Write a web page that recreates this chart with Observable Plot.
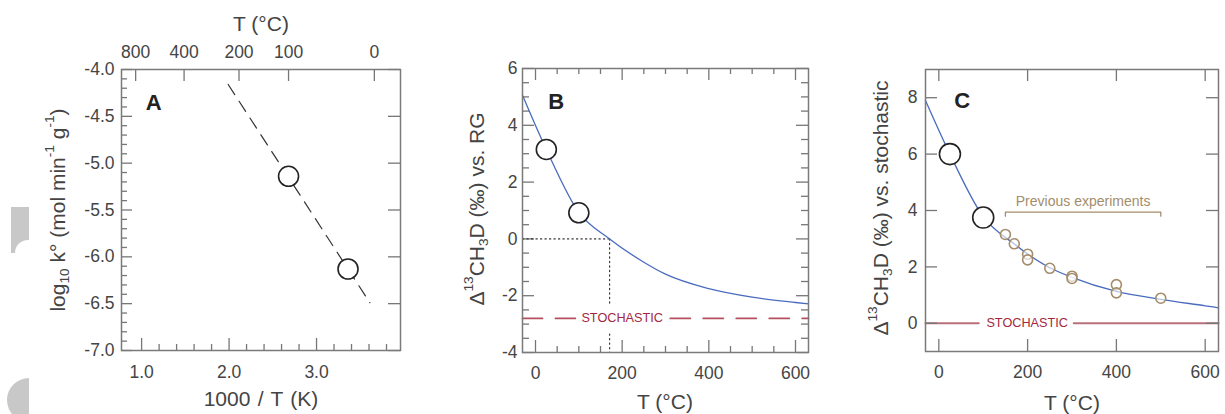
<!DOCTYPE html>
<html><head><meta charset="utf-8">
<script src="https://cdn.jsdelivr.net/npm/d3@7"></script>
<script src="https://cdn.jsdelivr.net/npm/@observablehq/plot@0.6"></script>
<style>
body{margin:0;background:#fff;}
#root{position:relative;width:1225px;height:414px;overflow:hidden;font-family:"Liberation Sans",Arial,sans-serif;color:#444;background:#fff;}
.panel{position:absolute;top:0;}
.t{position:absolute;white-space:nowrap;font-size:21px;color:#444;transform:translate(-50%,-50%);line-height:1;}
.ty{transform:translate(-50%,-50%) rotate(-90deg);}
sup,sub{font-size:65%;line-height:0;}
sup{vertical-align:0.75em;}
sub{vertical-align:-0.3em;}
.deco{position:absolute;background:#c8c8c8;}
</style></head>
<body>
<div id="root">
  <div class="deco" style="left:11px;top:207px;width:18px;height:46px;"></div>
  <div style="position:absolute;left:15px;top:240px;width:20px;height:20px;background:#fff;border-top-left-radius:13px;"></div>
  <div style="position:absolute;left:0;top:378px;width:29px;height:40px;overflow:hidden;">
    <div style="position:absolute;left:7px;top:0;width:44px;height:44px;border-radius:50%;background:#c8c8c8;"></div>
  </div>
  <div id="pA" class="panel" style="left:0px;"></div>
  <div id="pB" class="panel" style="left:420px;"></div>
  <div id="pC" class="panel" style="left:820px;"></div>
  <div class="t" style="left:261px;top:23px;">T (°C)</div>
  <div class="t" style="left:261px;top:398px;word-spacing:1.5px;">1000 / T (K)</div>
  <div class="t" style="left:665px;top:401px;">T (°C)</div>
  <div class="t" style="left:1072px;top:402px;">T (°C)</div>
  <div class="t ty" style="left:57px;top:210px;">log<sub>10</sub> k° (mol min<sup>-1</sup> g<sup>-1</sup>)</div>
  <div class="t ty" style="left:476px;top:209px;">Δ<sup>13</sup>CH<sub>3</sub>D (‰) vs. RG</div>
  <div class="t ty" style="left:880px;top:208px;">Δ<sup>13</sup>CH<sub>3</sub>D (‰) vs. stochastic</div>
</div>
<script>
// ---------- Panel A data ----------
const invT_A = [2.68, 3.36];          // 1000/T (K)
const logk_A = [-5.14, -6.13];        // log10 k°
const fitInvT_A = [1.99, 3.61];       // dashed Arrhenius fit end points
const fitLogk_A = [-4.16, -6.49];
const topTempLabelsA = [800, 400, 200, 100, 0];   // °C, top axis
const xTickLabelsA = [1.0, 2.0, 3.0];
const yTickLabelsA = [-7.0, -6.5, -6.0, -5.5, -5.0, -4.5, -4.0];

// ---------- Panels B & C data ----------
const curveT_B = [-30, 25, 100, 171, 250, 300, 400, 500, 600, 630];
const curveB   = [5.06, 3.15, 0.93, 0, -0.82, -1.24, -1.75, -2.05, -2.24, -2.29];
const curveT_C = [-30, 25, 100, 171, 250, 300, 400, 500, 600, 630];
const curveC   = [7.9, 6.0, 3.78, 2.8, 1.97, 1.63, 1.13, 0.85, 0.62, 0.55];
const sampleT = [25, 100];
const sampleB = [3.15, 0.92];
const sampleC = [6.0, 3.75];
const prevT = [150, 170, 200, 200, 250, 300, 300, 400, 400, 500];
const prevC = [3.15, 2.82, 2.45, 2.25, 1.95, 1.67, 1.59, 1.37, 1.08, 0.89];
const stochasticB = -2.8;
const stochasticC = 0;
const crossoverT = 171;
const xTickLabelsBC = [0, 200, 400, 600];
const yTickLabelsB = [-4, -2, 0, 2, 4, 6];
const yTickLabelsC = [0, 2, 4, 6, 8];

const FONT = "'Liberation Sans', Arial, sans-serif";
const TICK = "#777";
const FRAMEC = "#7a7a7a";
const BLUE = "#4a6cbf";
const TAN = "#a48d6b";
const RED = "#a3283f";
const TFS = 17.5;
const LABC = "#454545";

function ticks(values, side, len, plotW, plotH) {
  const o = {stroke: TICK, strokeWidth: 1.3};
  if (side === "bottom") return Plot.ruleX(values, {...o, insetTop: plotH - len});
  if (side === "top") return Plot.ruleX(values, {...o, insetBottom: plotH - len});
  if (side === "left") return Plot.ruleY(values, {...o, insetRight: plotW - len});
  return Plot.ruleY(values, {...o, insetLeft: plotW - len});
}
function labelsX(values, side, off, fmt) {
  return Plot.text(values, {x: d => d, frameAnchor: side, dy: side === "bottom" ? off : -off,
    text: fmt, fontSize: TFS, fill: LABC, lineAnchor: "middle", textAnchor: "middle"});
}
function labelsY(values, off, fmt) {
  return Plot.text(values, {y: d => d, frameAnchor: "left", dx: -off,
    text: fmt, fontSize: TFS, fill: LABC, lineAnchor: "middle", textAnchor: "end"});
}

function build(el, W, H, m, xDomain, yDomain, marks) {
  const plotW = W - m.l - m.r, plotH = H - m.t - m.b;
  const svg = Plot.plot({
    width: W, height: H,
    marginLeft: m.l, marginRight: m.r, marginTop: m.t, marginBottom: m.b,
    x: {domain: xDomain, axis: null},
    y: {domain: yDomain, axis: null},
    style: {fontFamily: FONT, fontSize: "17px", color: "#444", background: "transparent", overflow: "visible"},
    marks: marks(plotW, plotH)
  });
  document.getElementById(el).appendChild(svg);
}

// ---------- Panel A ----------
{
  const minorX = d3.range(1.2, 3.95, 0.2).filter(v => Math.abs(v - Math.round(v)) > 0.01);
  const minorY = d3.range(-6.9, -4.0, 0.1).filter(v => Math.abs(v * 2 - Math.round(v * 2)) > 0.01);
  const topPos = topTempLabelsA.map(t => 1000 / (t + 273.15));
  const pts = invT_A.map((x, i) => ({x, y: logk_A[i]}));
  const fit = fitInvT_A.map((x, i) => ({x, y: fitLogk_A[i]}));
  build("pA", 420, 414, {l: 121, r: 20, t: 69, b: 64}, [0.77, 3.96], [-7, -4], (pw, ph) => [
    ticks(xTickLabelsA, "bottom", 12, pw, ph),
    ticks(minorX, "bottom", 6, pw, ph),
    ticks(topPos, "top", 12, pw, ph),
    ticks(yTickLabelsA, "left", 11, pw, ph),
    ticks(minorY, "left", 6, pw, ph),
    ticks(yTickLabelsA, "right", 12, pw, ph),
    labelsX(xTickLabelsA, "bottom", 21.5, d => d.toFixed(1)),
    labelsX(topPos, "top", 17.5, (d, i) => String(topTempLabelsA[i])),
    labelsY(yTickLabelsA, 7, d => d.toFixed(1)),
    Plot.line(fit, {x: "x", y: "y", stroke: "#333", strokeWidth: 1.2, strokeDasharray: "12,8"}),
    Plot.dot(pts, {x: "x", y: "y", r: 10, fill: "#fff", stroke: "#222", strokeWidth: 1.6}),
    Plot.text(["A"], {x: 1.137, y: -4.352, text: d => d, fontSize: 22, fontWeight: "bold", fill: "#222"}),
    Plot.frame({stroke: FRAMEC, strokeWidth: 1.5})
  ]);
}

// ---------- Panel B ----------
{
  const minorX = d3.range(0, 630, 50).filter(v => v % 200 !== 0);
  const minorY = d3.range(-3.5, 6, 0.5).filter(v => Math.abs(v / 2 - Math.round(v / 2)) > 0.01);
  const curve = curveT_B.map((x, i) => ({x, y: curveB[i]}));
  const pts = sampleT.map((x, i) => ({x, y: sampleB[i]}));
  const dot = {x: "x", y: "y", stroke: "#333", strokeWidth: 1.2, strokeDasharray: "1.2,3.3"};
  const dash = {x: "x", y: "y", stroke: "#b5505f", strokeWidth: 1.8, strokeDasharray: "20,13"};
  build("pB", 400, 414, {l: 102, r: 12, t: 68, b: 62}, [-30, 630], [-4, 6], (pw, ph) => [
    ticks(xTickLabelsBC, "bottom", 12, pw, ph),
    ticks(minorX, "bottom", 6, pw, ph),
    ticks(xTickLabelsBC, "top", 12, pw, ph),
    ticks(minorX, "top", 6, pw, ph),
    ticks(yTickLabelsB, "left", 12, pw, ph),
    ticks(minorY, "left", 7, pw, ph),
    ticks(yTickLabelsB, "right", 12, pw, ph),
    ticks(minorY, "right", 7, pw, ph),
    labelsX(xTickLabelsBC, "bottom", 21, d => String(d)),
    labelsY(yTickLabelsB, 5, d => String(d)),
    Plot.line([{x: -30, y: 0}, {x: crossoverT, y: 0}], dot),
    Plot.line([{x: crossoverT, y: 0}, {x: crossoverT, y: -2.3}], dot),
    Plot.line([{x: crossoverT, y: -3.35}, {x: crossoverT, y: -4}], dot),
    Plot.line([{x: -30, y: stochasticB}, {x: 92, y: stochasticB}], dash),
    Plot.line([{x: 311, y: stochasticB}, {x: 630, y: stochasticB}], dash),
    Plot.text(["STOCHASTIC"], {x: 200, y: stochasticB, text: d => d, fontSize: 12.7, fill: RED}),
    Plot.line(curve, {x: "x", y: "y", stroke: BLUE, strokeWidth: 1.3, curve: "monotone-x"}),
    Plot.dot(pts, {x: "x", y: "y", r: 10, fill: "#fff", stroke: "#222", strokeWidth: 1.6}),
    Plot.text(["B"], {x: 48, y: 4.82, text: d => d, fontSize: 22, fontWeight: "bold", fill: "#222"}),
    Plot.frame({stroke: FRAMEC, strokeWidth: 1.5})
  ]);
}

// ---------- Panel C ----------
{
  const curve = curveT_C.map((x, i) => ({x, y: curveC[i]}));
  const pts = sampleT.map((x, i) => ({x, y: sampleC[i]}));
  const prev = prevT.map((x, i) => ({x, y: prevC[i]}));
  build("pC", 405, 414, {l: 105, r: 7, t: 69, b: 63}, [-30, 630], [-1, 9], (pw, ph) => [
    Plot.line([{x: -30, y: stochasticC}, {x: 90, y: stochasticC}], {x: "x", y: "y", stroke: "#b8707c", strokeWidth: 2}),
    Plot.line([{x: 304, y: stochasticC}, {x: 630, y: stochasticC}], {x: "x", y: "y", stroke: "#b8707c", strokeWidth: 2}),
    ticks(xTickLabelsBC, "bottom", 12, pw, ph),
    ticks(xTickLabelsBC, "top", 12, pw, ph),
    ticks(yTickLabelsC, "left", 12, pw, ph),
    ticks(yTickLabelsC, "right", 12, pw, ph),
    labelsX(xTickLabelsBC, "bottom", 20.5, d => String(d)),
    labelsY(yTickLabelsC, 8, d => String(d)),
    Plot.text(["STOCHASTIC"], {x: 199, y: stochasticC, text: d => d, fontSize: 12.7, fill: RED}),
    Plot.line(curve, {x: "x", y: "y", stroke: BLUE, strokeWidth: 1.3, curve: "monotone-x"}),
    Plot.line([{x: 150, y: 3.8}, {x: 150, y: 3.94}, {x: 500, y: 3.94}, {x: 500, y: 3.8}], {x: "x", y: "y", stroke: TAN, strokeWidth: 1.3}),
    Plot.text(["Previous experiments"], {x: 325, y: 4.33, text: d => d, fontSize: 14, fill: TAN}),
    Plot.dot(prev, {x: "x", y: "y", r: 5, fill: "#fff", fillOpacity: 0.6, stroke: TAN, strokeWidth: 1.6}),
    Plot.dot(pts, {x: "x", y: "y", r: 10.5, fill: "#fff", stroke: "#222", strokeWidth: 1.6}),
    Plot.text(["C"], {x: 52.6, y: 7.87, text: d => d, fontSize: 22, fontWeight: "bold", fill: "#222"}),
    Plot.frame({stroke: FRAMEC, strokeWidth: 1.5})
  ]);
}
</script>
</body></html>
